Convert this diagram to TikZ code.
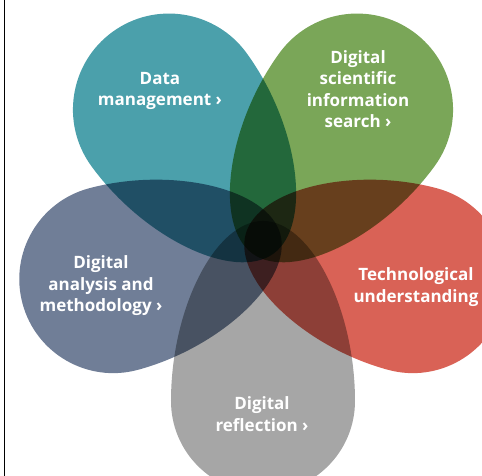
\documentclass[tikz,border=0pt]{standalone}
\usepackage{fontspec}
\setmainfont{Open Sans}
\definecolor{tealpetal}{RGB}{75,160,171}
\definecolor{greenpetal}{RGB}{122,166,88}
\definecolor{redpetal}{RGB}{217,98,86}
\definecolor{slatepetal}{RGB}{112,126,151}
\definecolor{greypetal}{RGB}{166,166,166}
\tikzset{
	petaltext/.style={text=white, align=center, font=\bfseries\fontsize{17}{21.5}\selectfont},
}
% angle, distance, radius, colour
\newcommand{\petal}[4]{%
	\fill[#4,rotate=#1] (\TIP,0) .. controls (\TIP,\TIPW) and (\SHOULDER,#3) .. (#2,#3)
		arc[start angle=90, end angle=-90, radius=#3]
		.. controls (\SHOULDER,-#3) and (\TIP,-\TIPW) .. cycle;
}
\begin{document}
\begin{tikzpicture}[x=1pt,y=1pt]

\def\TIP{-18}
\def\TIPW{48}
\def\SHOULDER{70}
	\useasboundingbox (-263,-237) rectangle (219,239);
	\clip (-263,-237) rectangle (219,239);
	\begin{scope}[blend group=multiply]
		\petal{126}{160}{96}{tealpetal}
		\petal{54}{160}{96}{greenpetal}
		\petal{-15}{155}{94}{redpetal}
		\petal{195}{155}{94}{slatepetal}
		\petal{-90}{162}{92}{greypetal}
	\end{scope}

	\node[petaltext] (data) at (-103,148) {Data\\management ›};
	\node[petaltext] (search) at (95,150) {Digital\\scientific\\information\\search ›};
	\node[petaltext] (tech) at (153,-48) {Technological\\understanding};
	\node[petaltext] (analysis) at (-162,-47) {Digital\\analysis and\\methodology ›};
	\node[petaltext] (reflection) at (-1,-175) {Digital\\reflection ›};

	\draw[line width=1.5pt] (-258.5,-237) -- (-258.5,239);

\end{tikzpicture}
\end{document}
